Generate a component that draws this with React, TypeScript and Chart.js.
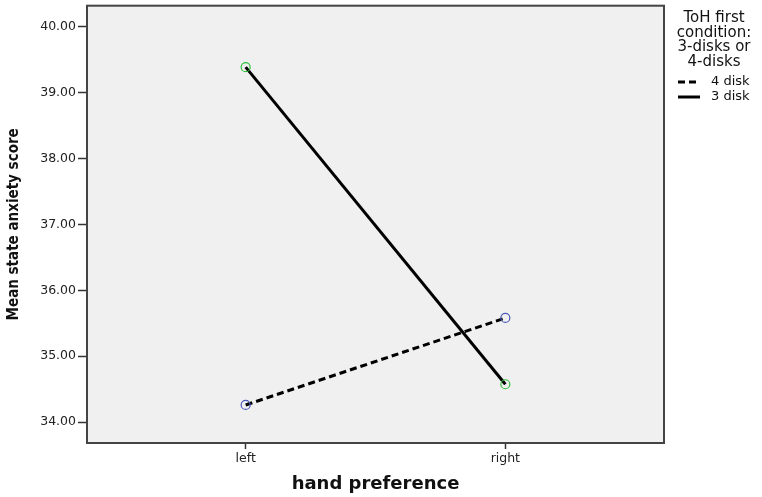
import React, { useEffect, useRef } from "react";
import { Chart, registerables } from "chart.js";

Chart.register(...registerables);

const categories = ["left", "right"];
const disk4Values = [34.26, 35.58];
const disk3Values = [39.385, 34.574];
const seriesLabels = ["4 disk", "3 disk"];
const legendTitle = ["ToH first", "condition:", "3-disks or", "4-disks"];
const yTicks = [34, 35, 36, 37, 38, 39, 40];

const bgPlugin = {
  id: "bgPlugin",
  beforeDraw(chart: any) {
    const { ctx, chartArea: a, width, height } = chart;
    ctx.save();
    ctx.fillStyle = "#ffffff";
    ctx.fillRect(0, 0, width, height);
    ctx.fillStyle = "#f0f0f0";
    ctx.fillRect(a.left, a.top, a.right - a.left, a.bottom - a.top);
    ctx.restore();
  },
  beforeDatasetsDraw(chart: any) {
    const { ctx, chartArea: a } = chart;
    ctx.save();
    ctx.strokeStyle = "#444444";
    ctx.lineWidth = 2;
    ctx.strokeRect(a.left, a.top, a.right - a.left, a.bottom - a.top);
    ctx.restore();
  },
};

const legendPlugin = {
  id: "customLegend",
  afterDraw(chart: any) {
    const { ctx } = chart;
    ctx.save();
    ctx.fillStyle = "#111111";
    ctx.textBaseline = "middle";
    ctx.textAlign = "center";
    ctx.font = "15px 'DejaVu Sans', sans-serif";
    const cx = 714;
    legendTitle.forEach((t, i) => {
      ctx.fillText(t, cx, 18 + i * 14.8);
    });
    ctx.font = "13px 'DejaVu Sans', sans-serif";
    ctx.textAlign = "left";
    chart.data.datasets.forEach((ds: any, i: number) => {
      const y = 82 + i * 15;
      ctx.strokeStyle = "#000000";
      ctx.lineWidth = 3;
      ctx.setLineDash(ds.borderDash || []);
      ctx.beginPath();
      ctx.moveTo(678, y);
      ctx.lineTo(700, y);
      ctx.stroke();
      ctx.setLineDash([]);
      ctx.fillText(ds.label, 711, y);
    });
    ctx.restore();
  },
};

export default function App() {
  const ref = useRef<HTMLCanvasElement | null>(null);
  useEffect(() => {
    if (!ref.current) return;
    const chart = new Chart(ref.current, {
      type: "line",
      data: {
        datasets: [
          {
            label: seriesLabels[0],
            data: disk4Values.map((v, i) => ({ x: i, y: v })),
            borderColor: "#000000",
            borderWidth: 3,
            borderDash: [7, 4],
            pointRadius: 4.5,
            pointBorderWidth: 1.2,
            pointBorderColor: "#4a5ab8",
            pointBackgroundColor: "rgba(0,0,0,0)",
            fill: false,
            tension: 0,
          },
          {
            label: seriesLabels[1],
            data: disk3Values.map((v, i) => ({ x: i, y: v })),
            borderColor: "#000000",
            borderWidth: 3,
            pointRadius: 4.5,
            pointBorderWidth: 1.2,
            pointBorderColor: "#2fbf3a",
            pointBackgroundColor: "rgba(0,0,0,0)",
            fill: false,
            tension: 0,
          },
        ],
      },
      options: {
        responsive: false,
        animation: false,
        layout: { padding: { left: 0, right: 98, top: 4, bottom: 0 } },
        plugins: {
          legend: { display: false },
          tooltip: { enabled: false },
        },
        scales: {
          x: {
            type: "linear",
            min: -0.611,
            max: 1.611,
            afterFit: (s: any) => {
              s.height = 54;
              s.paddingLeft = 0;
              s.paddingRight = 0;
            },
            afterBuildTicks: (s: any) => {
              s.ticks = categories.map((_, i) => ({ value: i }));
            },
            ticks: {
              callback: (v: any) => categories[v] ?? "",
              color: "#222222",
              font: { family: "'DejaVu Sans', sans-serif", size: 12.5 },
              padding: 2,
              maxRotation: 0,
            },
            grid: {
              drawOnChartArea: false,
              drawTicks: true,
              tickLength: 6,
              tickColor: "#333333",
              tickWidth: 1.5,
            },
            border: { display: false },
            title: {
              display: true,
              text: "hand preference",
              color: "#111111",
              font: { family: "'DejaVu Sans', sans-serif", size: 18, weight: "bold" },
              padding: { top: 0, bottom: 2 },
            },
          },
          y: {
            type: "linear",
            min: 33.683,
            max: 40.317,
            afterFit: (s: any) => {
              s.width = 87;
              s.paddingTop = 0;
              s.paddingBottom = 0;
            },
            afterBuildTicks: (s: any) => {
              s.ticks = yTicks.map((v) => ({ value: v }));
            },
            ticks: {
              callback: (v: any) => Number(v).toFixed(2),
              color: "#222222",
              font: { family: "'DejaVu Sans', sans-serif", size: 12.5 },
              padding: 2,
            },
            grid: {
              drawOnChartArea: false,
              drawTicks: true,
              tickLength: 9,
              tickColor: "#333333",
              tickWidth: 1.5,
            },
            border: { display: false },
            title: {
              display: true,
              text: "Mean state anxiety score",
              color: "#111111",
              font: {
                family: "'Liberation Sans Narrow', 'DejaVu Sans Condensed', sans-serif",
                size: 15,
                weight: "bold",
              },
              padding: { top: 5, bottom: 0 },
            },
          },
        },
      },
      plugins: [bgPlugin, legendPlugin],
    } as any);
    return () => chart.destroy();
  }, []);
  return (
    <div style={{ position: "fixed", left: 0, top: 0, width: 762, height: 497, background: "#fff" }}>
      <canvas ref={ref} width={762} height={497} style={{ width: 762, height: 497, display: "block" }} />
    </div>
  );
}
